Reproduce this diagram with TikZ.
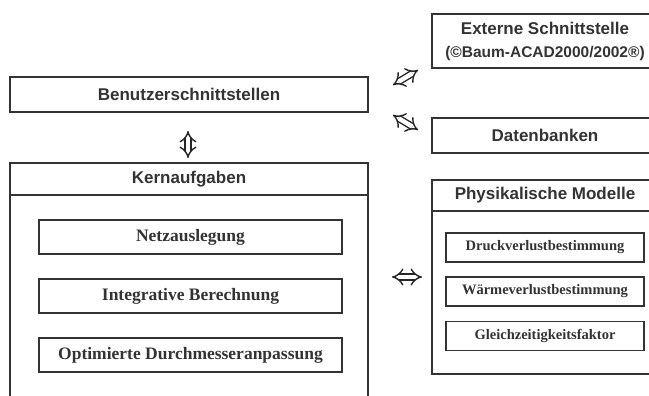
\documentclass[tikz,border=0pt]{standalone}
\usepackage{fontspec}
\setmainfont{Liberation Serif}
\setsansfont{Liberation Sans}
\usetikzlibrary{arrows.meta, positioning}

\begin{document}
\begin{tikzpicture}[
        x=1pt,
        y=-1pt,
        every node/.style={inner sep=0pt, outer sep=0pt, text=black!80},
        frame/.style={draw=black!80, line width=2pt, rectangle, minimum width=226,
            font=\sffamily\bfseries\fontsize{17}{19}\selectfont},
        task/.style={draw=black!80, line width=1.5pt, rectangle, minimum width=303, minimum height=34,
            font=\rmfamily\bfseries\fontsize{17.5}{19}\selectfont},
        subtask/.style={task, minimum width=198, minimum height=29,
            font=\rmfamily\bfseries\fontsize{14.5}{16}\selectfont},
        link/.style={draw=black!85, double=white, double distance=4.5pt, line width=1.4pt,
            {Implies[scale=0.85]}-{Implies[scale=0.85]}}
    ]
    \clip (0,0) rectangle (649,396);

    % left column
    \node[frame, minimum width=358, minimum height=35] (user) at (189,94.5) {Benutzerschnittstellen};
    \node[frame, minimum width=358, minimum height=32] (kern) at (189,179) {Kernaufgaben};
    \node[frame, minimum width=358, minimum height=225] (kernbody) at (189,307.5) {};
    \node[task] (netz) at (190.5,237) {Netzauslegung};
    \node[task] (integ) at (190.5,296) {Integrative Berechnung};
    \node[task] (optim) at (190.5,355) {Optimierte Durchmesseranpassung};

    % right column
    \node[frame, minimum height=54, align=center] (extern) at (545,41)
        {Externe Schnittstelle\\[4pt]{\fontsize{15.5}{16}\selectfont(©Baum-ACAD2000/2002®)}};
    \node[frame, minimum height=35] (daten) at (545,135.5) {Datenbanken};
    \node[frame, minimum height=31] (phys) at (545,195.5) {Physikalische Modelle};
    \node[frame, minimum height=163] (physbody) at (545,292.5) {};
    \node[subtask] (druck) at (545,247.5) {Druckverlustbestimmung};
    \node[subtask] (waerme) at (545,291.5) {Wärmeverlustbestimmung};
    \node[subtask] (gleich) at (545,336) {Gleichzeitigkeitsfaktor};

    % links
    \coordinate (userlow) at (188,131);
    \coordinate (kernhigh) at (188,158);
    \coordinate (extlow) at (393,85);
    \coordinate (exthigh) at (418,70);
    \coordinate (datlow) at (393,115);
    \coordinate (dathigh) at (418,130);
    \coordinate (physleft) at (392,277);
    \coordinate (physright) at (422,277);
    \draw[link] (userlow) -- (kernhigh);
    \draw[link] (extlow) -- (exthigh);
    \draw[link] (datlow) -- (dathigh);
    \draw[link] (physleft) -- (physright);
\end{tikzpicture}
\end{document}
